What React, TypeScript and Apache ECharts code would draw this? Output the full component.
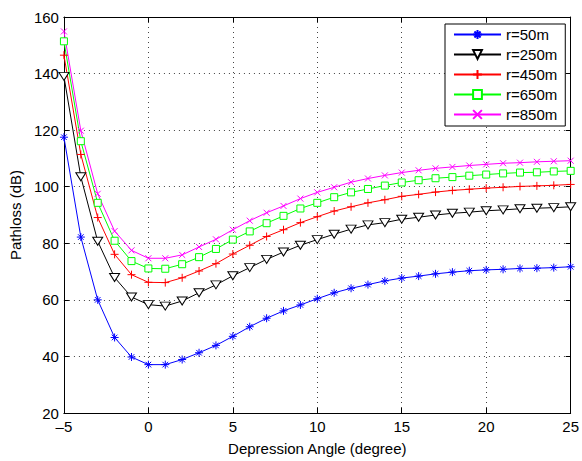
import React, { useEffect, useRef } from "react";
import * as echarts from "echarts";

const angles = [-5, -4, -3, -2, -1, 0, 1, 2, 3, 4, 5, 6, 7, 8, 9, 10, 11, 12, 13, 14, 15, 16, 17, 18, 19, 20, 21, 22, 23, 24, 25];

const r50 = [117.5, 82.2, 60, 46.7, 39.8, 37.1, 37.1, 38.9, 41.3, 43.9, 47.1, 50.5, 53.5, 56.1, 58.2, 60.4, 62.5, 64.1, 65.4, 66.7, 67.7, 68.4, 69.2, 69.8, 70.3, 70.6, 70.8, 71.1, 71.2, 71.4, 71.7];
const r250 = [139, 103.5, 80.7, 67.9, 61, 58.3, 57.8, 59.6, 62.5, 65.3, 68.5, 71.4, 74.3, 76.9, 79.3, 81.3, 83.2, 85, 86.5, 87.3, 88.5, 89.2, 90, 90.6, 91, 91.5, 91.8, 92.2, 92.4, 92.6, 92.9];
const r450 = [146.5, 111.4, 89.1, 76.1, 68.9, 66.2, 66.1, 67.8, 70.2, 72.8, 76.2, 79.3, 82.4, 84.8, 87.3, 89.4, 91.4, 92.9, 94.3, 95.4, 96.6, 97.3, 98.1, 98.7, 99.1, 99.5, 99.8, 100.1, 100.3, 100.5, 100.8];
const r650 = [151.4, 116.1, 94.3, 80.9, 73.7, 71.1, 71, 72.6, 75.1, 78, 81.3, 84.2, 87.1, 89.7, 92.3, 94.3, 96.3, 98, 99.2, 100.4, 101.5, 102.3, 103, 103.4, 103.9, 104.3, 104.7, 105, 105.1, 105.4, 105.6];
const r850 = [154.9, 119.8, 97.5, 84.3, 77.5, 74.7, 74.7, 75.9, 78.7, 81.4, 84.8, 88, 90.8, 93.2, 95.8, 98, 99.8, 101.6, 102.9, 104, 105, 105.8, 106.5, 107, 107.5, 107.9, 108.3, 108.5, 108.8, 109, 109.2];

const seriesNames = ["r=50m", "r=250m", "r=450m", "r=650m", "r=850m"];

const FONT = "'Liberation Sans', Arial, Helvetica, sans-serif";

const STAR = "path://M5,0L5,10M0,5L10,5M1.5,1.5L8.5,8.5M1.5,8.5L8.5,1.5";
const PLUS = "path://M5,0L5,10M0,5L10,5";
const CROSS = "path://M0,0L10,10M0,10L10,0";

export default function App() {
  const ref = useRef<HTMLDivElement>(null);
  useEffect(() => {
    if (!ref.current) return;
    const chart = echarts.init(ref.current, undefined, { renderer: "svg" });
    const fmtX = (v: number) => (v < 0 ? "\u2013" + Math.abs(v) : String(v));
    const mk = (name: string, vals: number[], color: string, symbol: string, size: any, rotate = 0, fill = "none") => ({
      name,
      type: "line",
      data: angles.map((a, i) => [a, vals[i]]),
      lineStyle: { color, width: 1 },
      symbol,
      symbolSize: size,
      symbolRotate: rotate,
      showAllSymbol: true,
      itemStyle: { color: fill, borderColor: color, borderWidth: 1 },
      emphasis: { disabled: true },
    });
    const axisCommon = {
      axisLine: { show: true, onZero: false, lineStyle: { color: "#000", width: 1 } },
      axisTick: { show: true, inside: true, length: 5, lineStyle: { color: "#000" } },
    };
    const txt = { fontSize: 15, color: "#000", fontFamily: FONT };
    chart.setOption({
      animation: false,
      backgroundColor: "#fff",
      textStyle: { fontFamily: FONT },
      grid: { left: 62, right: 10, top: 17, bottom: 42, containLabel: false },
      legend: {
        orient: "vertical",
        left: 445,
        top: 24,
        backgroundColor: "#fff",
        borderColor: "#000",
        borderWidth: 1,
        padding: [3, 8, 4, 8],
        itemGap: 5,
        itemWidth: 47,
        itemHeight: 11,
        textStyle: { ...txt },
        data: seriesNames,
      },
      xAxis: [
        {
          type: "value",
          min: -5,
          max: 25,
          interval: 5,
          name: "Depression Angle (degree)",
          nameLocation: "middle",
          nameGap: 28,
          nameTextStyle: { ...txt },
          axisLabel: { ...txt, margin: 6, formatter: fmtX },
          splitLine: { show: true, lineStyle: { color: "#444", type: [1, 4], width: 1 } },
          ...axisCommon,
        },
        {
          type: "value",
          position: "top",
          min: -5,
          max: 25,
          interval: 5,
          axisLabel: { show: false },
          splitLine: { show: false },
          ...axisCommon,
        },
      ],
      yAxis: [
        {
          type: "value",
          min: 20,
          max: 160,
          interval: 20,
          name: "Pathloss (dB)",
          nameLocation: "middle",
          nameGap: 38,
          nameTextStyle: { ...txt },
          axisLabel: { ...txt, margin: 5 },
          splitLine: { show: true, lineStyle: { color: "#444", type: [1, 4], width: 1 } },
          ...axisCommon,
        },
        {
          type: "value",
          position: "right",
          min: 20,
          max: 160,
          interval: 20,
          axisLabel: { show: false },
          splitLine: { show: false },
          ...axisCommon,
        },
      ],
      series: [
        mk(seriesNames[0], r50, "#0000ff", STAR, 8),
        mk(seriesNames[1], r250, "#000000", "triangle", [10, 8], 180, "#fff"),
        mk(seriesNames[2], r450, "#ff0000", PLUS, 8),
        mk(seriesNames[3], r650, "#00ff00", "rect", 7, 0, "#fff"),
        mk(seriesNames[4], r850, "#ff00ff", CROSS, 6),
      ],
    });
    return () => chart.dispose();
  }, []);
  return <div ref={ref} style={{ width: 582, height: 461, position: "absolute", left: 0, top: 0 }} />;
}
